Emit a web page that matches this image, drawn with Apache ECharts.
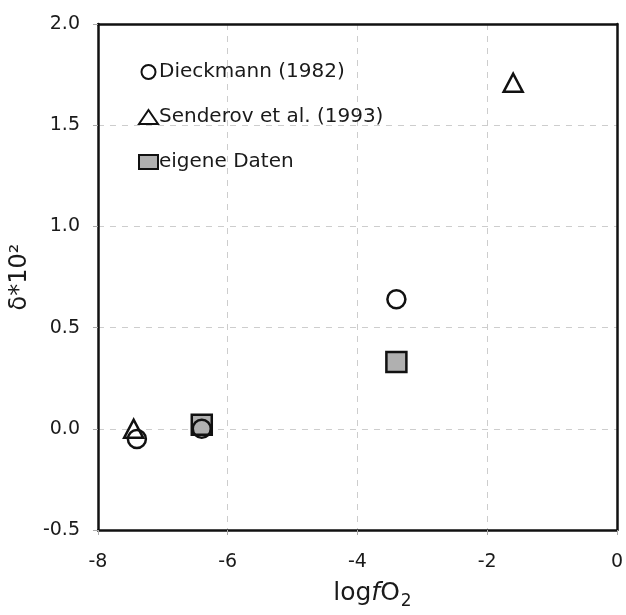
<!DOCTYPE html>
<html>
<head>
<meta charset="utf-8">
<script src="https://cdn.jsdelivr.net/npm/echarts@6/dist/echarts.min.js"></script>
<style>
  html, body { margin: 0; padding: 0; background: #fff; }
  #chart { width: 626px; height: 615px; }
</style>
</head>
<body>
<div id="chart"></div>
<script>
// log fO2 vs. delta*10^2 for three data sources
const seriesNames = ['Dieckmann (1982)', 'Senderov et al. (1993)', 'eigene Daten'];
const dieckmannX = [-7.4, -6.4, -3.4];
const dieckmannY = [-0.05, 0.0, 0.64];
const senderovX = [-7.45, -1.6];
const senderovY = [0.0, 1.71];
const eigeneX = [-6.4, -3.4];
const eigeneY = [0.02, 0.33];
const xTicks = [-8, -6, -4, -2, 0];
const yTicks = [-0.5, 0.0, 0.5, 1.0, 1.5, 2.0];

const pairs = (xs, ys) => xs.map((x, i) => [x, ys[i]]);
const FONT = '"DejaVu Sans", "Liberation Sans", Arial, sans-serif';
const TXT = '#1a1a1a';
const FRAME = { show: true, onZero: false, lineStyle: { color: '#111', width: 2.5 } };
const GRIDLINE = { show: true, showMinLine: false, showMaxLine: false, lineStyle: { color: '#cdcdcd', type: [6, 6], width: 1 } };

const chart = echarts.init(document.getElementById('chart'), null, { renderer: 'canvas' });
chart.setOption({
  animation: false,
  backgroundColor: '#fff',
  textStyle: { fontFamily: FONT, color: TXT },
  grid: { left: 96, top: 24, width: 521, height: 508, show: false },
  legend: {
    orient: 'vertical',
    left: 133, top: 56,
    itemWidth: 19, itemHeight: 14, itemGap: 23,
    symbolKeepAspect: false,
    textStyle: { fontFamily: FONT, fontSize: 20, lineHeight: 22, color: TXT, padding: [0, 0, 0, -4] },
    data: [
      { name: seriesNames[0], icon: 'circle', itemStyle: { color: '#fff', borderColor: '#111', borderWidth: 2 } },
      { name: seriesNames[1], icon: 'triangle', itemStyle: { color: '#fff', borderColor: '#111', borderWidth: 2 } },
      { name: seriesNames[2], icon: 'rect', itemStyle: { color: '#b0b0b0', borderColor: '#111', borderWidth: 2 } }
    ]
  },
  xAxis: [
    {
      type: 'value', min: xTicks[0], max: xTicks[xTicks.length - 1], interval: 2,
      name: '{a|log}{i|f}{a|O}{s|2}',
      nameLocation: 'middle', nameGap: 47,
      nameTextStyle: {
        padding: [0, 0, 0, 30],
        rich: {
          a: { fontFamily: FONT, fontSize: 25, color: TXT },
          i: { fontFamily: FONT, fontSize: 25, fontStyle: 'italic', color: TXT },
          s: { fontFamily: FONT, fontSize: 17, color: TXT, padding: [16, 0, 0, 1] }
        }
      },
      axisLine: FRAME,
      axisTick: { show: true, length: 5, lineStyle: { color: '#aaa' } },
      axisLabel: { fontSize: 19, color: TXT, margin: 23, fontFamily: FONT, formatter: v => String(v) },
      splitLine: GRIDLINE
    },
    {
      type: 'value', position: 'top', min: xTicks[0], max: xTicks[xTicks.length - 1], interval: 2,
      axisLine: FRAME, axisTick: { show: false }, axisLabel: { show: false }, splitLine: { show: false }
    }
  ],
  yAxis: [
    {
      type: 'value', min: yTicks[0], max: yTicks[yTicks.length - 1], interval: 0.5,
      name: 'δ*10²',
      nameLocation: 'middle', nameGap: 60, nameRotate: 90,
      nameTextStyle: { fontFamily: FONT, fontSize: 24, color: TXT },
      axisLine: FRAME,
      axisTick: { show: true, length: 5, lineStyle: { color: '#aaa' } },
      axisLabel: { fontSize: 19, color: TXT, margin: 18, fontFamily: FONT, formatter: v => v.toFixed(1) },
      splitLine: GRIDLINE
    },
    {
      type: 'value', position: 'right', min: yTicks[0], max: yTicks[yTicks.length - 1], interval: 0.5,
      axisLine: FRAME, axisTick: { show: false }, axisLabel: { show: false }, splitLine: { show: false }
    }
  ],
  series: [
    {
      name: seriesNames[0], type: 'scatter', z: 4,
      symbol: 'circle', symbolSize: 18,
      itemStyle: { color: 'transparent', borderColor: '#111', borderWidth: 2.5, opacity: 1 },
      data: pairs(dieckmannX, dieckmannY)
    },
    {
      name: seriesNames[1], type: 'scatter', z: 3,
      symbol: 'triangle', symbolSize: [19, 18],
      itemStyle: { color: 'transparent', borderColor: '#111', borderWidth: 2.5, opacity: 1 },
      data: pairs(senderovX, senderovY)
    },
    {
      name: seriesNames[2], type: 'scatter', z: 2,
      symbol: 'rect', symbolSize: 20,
      itemStyle: { color: '#b0b0b0', borderColor: '#111', borderWidth: 2.5, opacity: 1 },
      data: pairs(eigeneX, eigeneY)
    }
  ]
});
</script>
</body>
</html>
